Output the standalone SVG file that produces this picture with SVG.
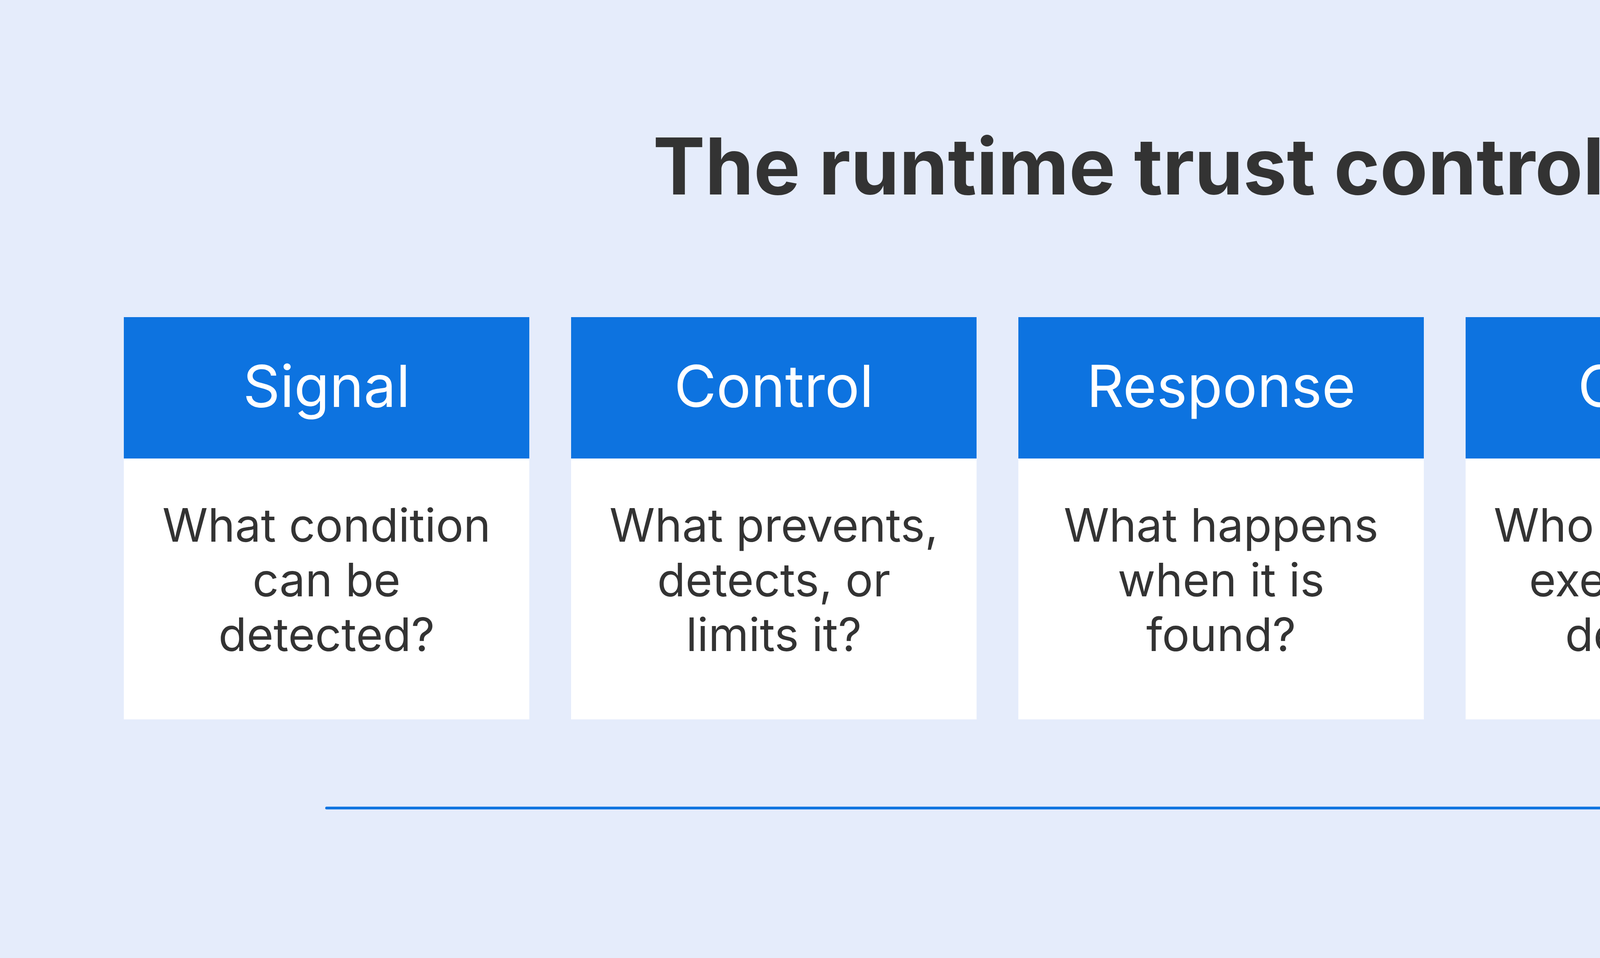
<svg xmlns="http://www.w3.org/2000/svg" width="6250" height="2453" viewBox="0 0 6250 2453">
<style>
.h{fill:#0D73E0}.b{fill:#FFFFFF}
.ht{font-family:Inter,"Noto Sans",sans-serif;font-size:148px;fill:#FFFFFF;text-anchor:middle}
.bt{font-family:Inter,"Noto Sans",sans-serif;font-size:118px;fill:#333333;text-anchor:middle}
.title{font-family:Inter,"Noto Sans",sans-serif;font-size:200px;font-weight:bold;fill:#333333;text-anchor:middle}
</style>
<rect width="6250" height="2453" fill="#E5ECFB"/>
<text class="title" x="3125" y="498">The runtime trust control map</text>
<g id="signal"><rect class="h" x="317" y="812" width="1038" height="362"/><rect class="b" x="317" y="1174" width="1038" height="668"/>
<text class="ht" x="836" y="1042">Signal</text>
<text class="bt" x="836" y="1387">What condition</text><text class="bt" x="836" y="1527">can be</text><text class="bt" x="836" y="1667">detected?</text></g>
<g id="control"><rect class="h" x="1462" y="812" width="1038" height="362"/><rect class="b" x="1462" y="1174" width="1038" height="668"/>
<text class="ht" x="1981" y="1042">Control</text>
<text class="bt" x="1981" y="1387">What prevents,</text><text class="bt" x="1981" y="1527">detects, or</text><text class="bt" x="1981" y="1667">limits it?</text></g>
<g id="response"><rect class="h" x="2607" y="812" width="1038" height="362"/><rect class="b" x="2607" y="1174" width="1038" height="668"/>
<text class="ht" x="3126" y="1042">Response</text>
<text class="bt" x="3126" y="1387">What happens</text><text class="bt" x="3126" y="1527">when it is</text><text class="bt" x="3126" y="1667">found?</text></g>
<g id="owner"><rect class="h" x="3752" y="812" width="1038" height="362"/><rect class="b" x="3752" y="1174" width="1038" height="668"/>
<text class="ht" x="4271" y="1042">Owner</text>
<text class="bt" x="4271" y="1387">Who makes and</text><text class="bt" x="4271" y="1527">executes the</text><text class="bt" x="4271" y="1667">decision?</text></g>
<g id="evidence"><rect class="h" x="4897" y="812" width="1038" height="362"/><rect class="b" x="4897" y="1174" width="1038" height="668"/>
<text class="ht" x="5416" y="1042">Evidence</text>
<text class="bt" x="5416" y="1387">What proves</text><text class="bt" x="5416" y="1527">what</text><text class="bt" x="5416" y="1667">happened?</text></g>
<g id="connectors" fill="none" stroke="#0D73E0" stroke-width="7" stroke-linecap="round" stroke-linejoin="round">
<line x1="836" y1="2069" x2="5410" y2="2069"/>
<polyline points="5350,2030 5412,2069 5350,2108" stroke-width="10"/>
</g>
</svg>
